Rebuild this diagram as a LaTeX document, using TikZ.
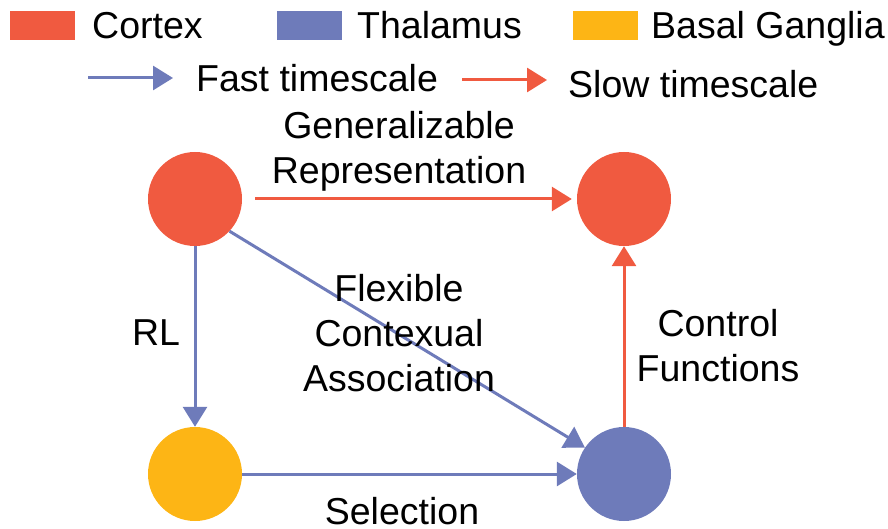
\documentclass[tikz,border=0pt]{standalone}
\usepackage{fontspec}
\setmainfont{Liberation Sans}
\usetikzlibrary{arrows.meta}
\definecolor{ctx}{RGB}{240,90,64}
\definecolor{thal}{RGB}{110,123,186}
\definecolor{bg}{RGB}{253,181,21}
\tikzset{
  region/.style={circle,fill=#1,minimum size=94pt,inner sep=0pt},
  swatch/.style={fill=#1,minimum width=65pt,minimum height=29pt,inner sep=0pt},
  lbl/.style={font=\fontsize{37.5}{45}\selectfont,inner sep=0pt,align=center},
  fast/.style={draw=thal,line width=3pt,-{Triangle[length=20pt,width=24pt]}},
  slow/.style={draw=ctx,line width=3pt,-{Triangle[length=20pt,width=24pt]}},
}
\begin{document}
\begin{tikzpicture}[x=1pt,y=-1pt]
\useasboundingbox (0,0) rectangle (888,529);
% legend
\node[swatch=ctx] (sc) at (42.5,26) {};
\node[lbl,anchor=base west] (tc) at (92,39) {Cortex};
\node[swatch=thal] (st) at (309,26) {};
\node[lbl,anchor=base west] (tt) at (357,39) {Thalamus};
\node[swatch=bg] (sb) at (605,26) {};
\node[lbl,anchor=base west] (tb) at (651,39) {Basal Ganglia};
\coordinate (fa) at (88,78);
\coordinate (fb) at (173,78);
\draw[fast] (fa) -- (fb);
\node[lbl,anchor=base west] (tf) at (196,92) {Fast timescale};
\coordinate (sa) at (462,80);
\coordinate (sbb) at (547,80);
\draw[slow] (sa) -- (sbb);
\node[lbl,anchor=base west] (ts) at (568,98) {Slow timescale};
% regions
\node[region=ctx] (a) at (195,199) {};
\node[region=ctx] (b) at (624,199) {};
\node[region=bg] (c) at (195,474) {};
\node[region=thal] (d) at (624,474) {};
% connectors
\draw[slow,shorten <=13pt,shorten >=5pt] (a) -- (b);
\draw[fast] (a) -- (c);
\draw[fast] (a.-43) -- (d.146);
\draw[fast] (c) -- (d);
\draw[slow] (d) -- (b);
% labels
\node[lbl] (l1) at (399,151) {Generalizable\\Representation};
\node[lbl] (l2) at (156,333) {RL};
\node[lbl] (l3) at (399,333) {Flexible\\Contexual\\Association};
\node[lbl] (l4) at (718,346) {Control\\Functions};
\node[lbl,anchor=base] (l5) at (402,524) {Selection};
\end{tikzpicture}
\end{document}
